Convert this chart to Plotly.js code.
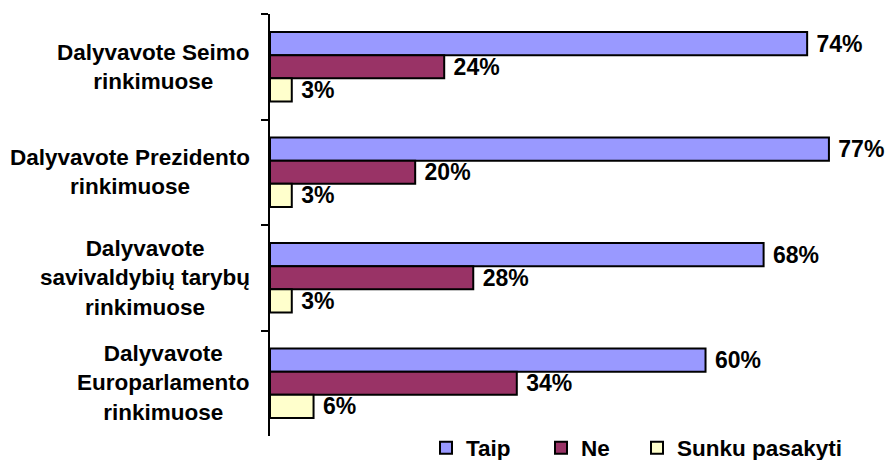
<!DOCTYPE html>
<html>
<head>
<meta charset="utf-8">
<script src="https://cdn.plot.ly/plotly-3.0.1.min.js"></script>
<style>html,body{margin:0;padding:0;background:#fff;}#chart{width:893px;height:460px;}</style>
</head>
<body>
<div id="chart"></div>
<script>
const categories = [
  'Dalyvavote Seimo<br>rinkimuose',
  'Dalyvavote Prezidento<br>rinkimuose',
  'Dalyvavote<br>savivaldybių tarybų<br>rinkimuose',
  'Dalyvavote<br>Europarlamento<br>rinkimuose'
];
const seriesNames = ['Taip', 'Ne', 'Sunku pasakyti'];
const taip = [74, 77, 68, 60];
const ne = [24, 20, 28, 34];
const sunku = [3, 3, 3, 6];
const colors = ['#9999FF', '#993366', '#FFFFCC'];

const FONT = 'Arial, "Liberation Sans", sans-serif';
const allSeries = [taip, ne, sunku];
const legendIds = ['legend', 'legend2', 'legend3'];

const data = allSeries.map((vals, i) => ({
  type: 'bar',
  orientation: 'h',
  name: seriesNames[i],
  y: categories,
  x: vals,
  marker: {color: colors[i], line: {color: '#000', width: 2}},
  text: vals.map(v => '\u00a0' + v + '%'),
  textposition: 'outside',
  constraintext: 'none',
  cliponaxis: false,
  textfont: {family: FONT, size: 23, color: '#000', weight: 'bold'},
  hoverinfo: 'none',
  legend: legendIds[i]
}));

const legendBase = {
  orientation: 'h',
  xref: 'container', yref: 'container',
  yanchor: 'middle', xanchor: 'left',
  y: 0.026,
  bgcolor: 'rgba(0,0,0,0)',
  borderwidth: 0,
  font: {family: FONT, size: 22.5, color: '#000', weight: 'bold'}
};

const layout = {
  width: 893, height: 460,
  margin: {l: 270, r: 6, t: 14, b: 24, autoexpand: false},
  paper_bgcolor: '#fff', plot_bgcolor: '#fff',
  barmode: 'group',
  bargap: 0.34,
  bargroupgap: 0,
  showlegend: true,
  legend: Object.assign({}, legendBase, {x: 426 / 893}),
  legend2: Object.assign({}, legendBase, {x: 541 / 893}),
  legend3: Object.assign({}, legendBase, {x: 637 / 893}),
  xaxis: {visible: false, range: [0, 85], fixedrange: true},
  yaxis: {
    range: [3.5, -0.5],
    showticklabels: false,
    showline: true, linecolor: '#000', linewidth: 2,
    ticks: 'outside', tickson: 'boundaries', ticklen: 7, tickwidth: 2, tickcolor: '#000',
    showgrid: false, zeroline: false, fixedrange: true
  },
  annotations: categories.map(c => ({
    xref: 'paper', yref: 'y', x: 0, y: c,
    xanchor: 'right', yanchor: 'middle', xshift: -18,
    align: 'center', showarrow: false, text: c,
    font: {family: FONT, size: 22.5, color: '#000', weight: 'bold'}
  }))
};

Plotly.newPlot('chart', data, layout, {displayModeBar: false, staticPlot: true});
</script>
</body>
</html>
